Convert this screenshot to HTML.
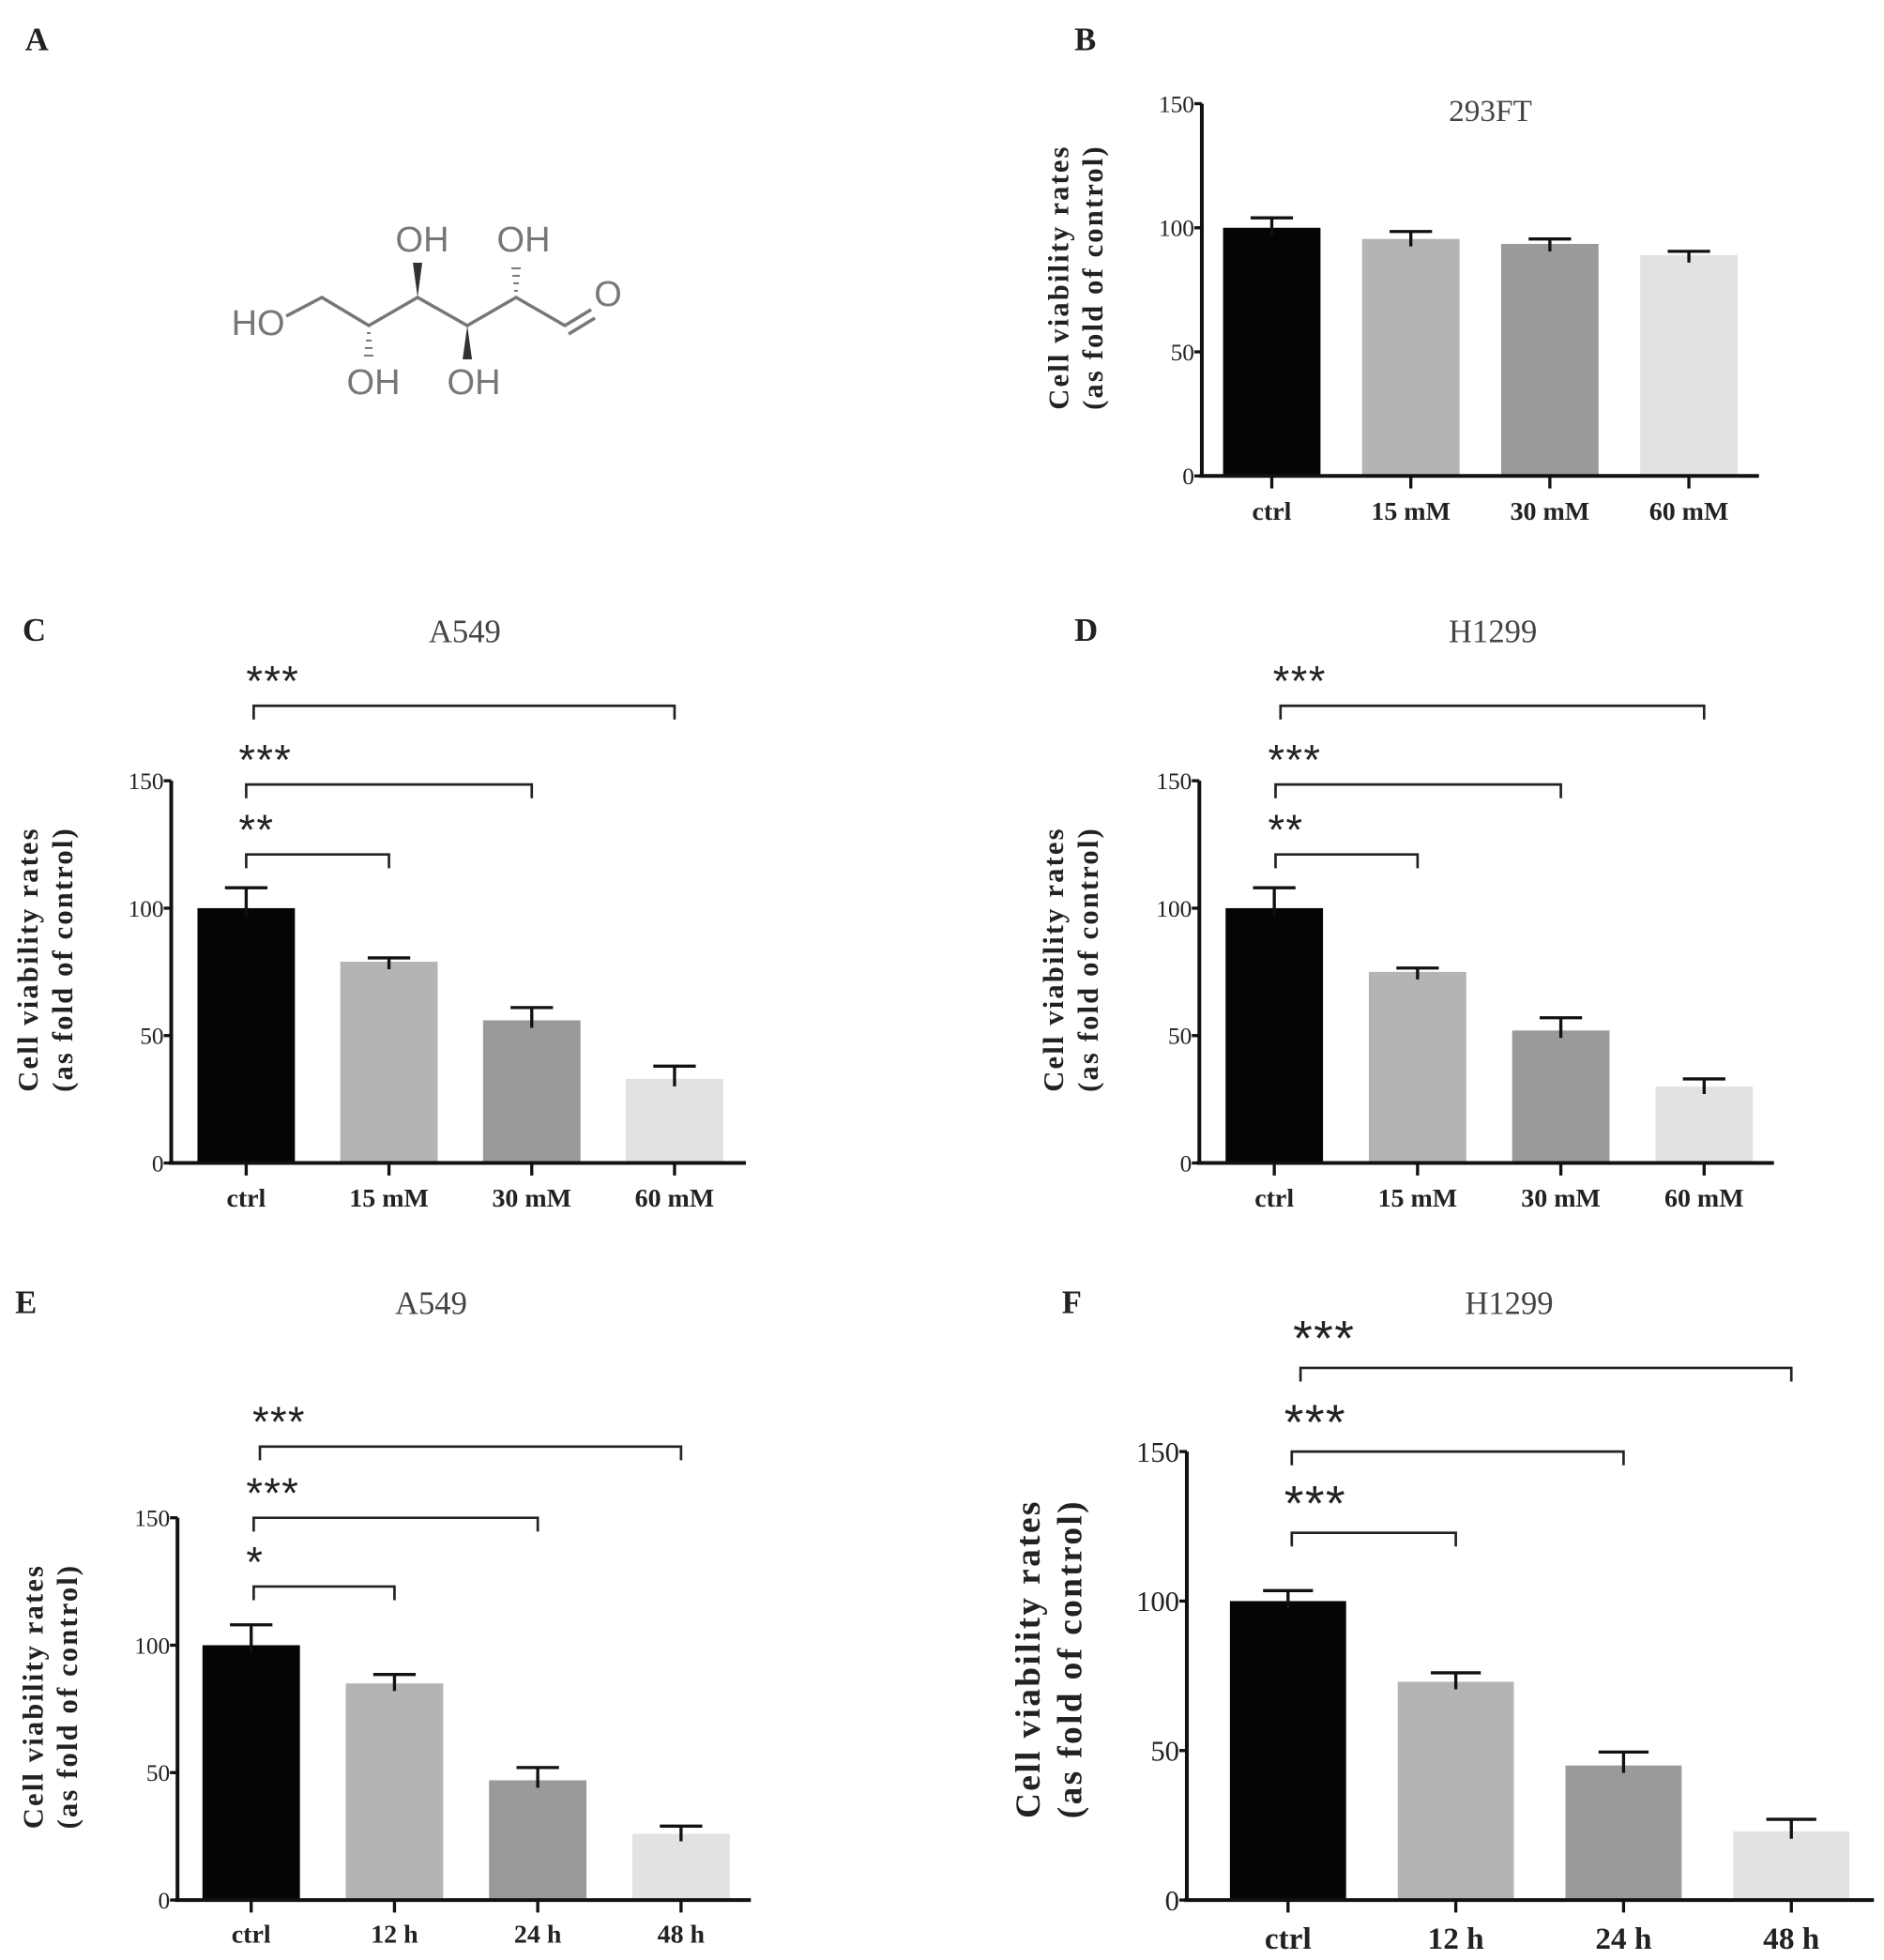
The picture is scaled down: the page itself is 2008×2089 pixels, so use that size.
<!DOCTYPE html>
<html><head><meta charset="utf-8"><style>
html,body{margin:0;padding:0;background:#fff;}
svg{display:block;}
text{font-family:"Liberation Serif",serif;}
text.sans{font-family:"Liberation Sans",sans-serif;}
</style></head><body>
<svg id="fig" width="2008" height="2089" viewBox="0 0 1508 1569" xmlns="http://www.w3.org/2000/svg">
<g font-size="26" font-weight="bold" fill="#222">
<text x="20" y="40">A</text><text x="860" y="40">B</text>
<text x="18" y="513">C</text><text x="860" y="513">D</text>
<text x="12" y="1051">E</text><text x="850" y="1051">F</text>
</g>
<g transform="scale(0.751)" stroke="#777" stroke-width="3.5" fill="none">
<polyline points="305,337 343,317 393,347 445,317 498,347 550,317 602,347 630,330"/>
<line x1="606" y1="356" x2="634" y2="339"/>
<polygon points="445,317 440,280 450,280" fill="#333" stroke="none"/>
<polygon points="498,347 493,383 503,383" fill="#333" stroke="none"/>
<g stroke-width="2"><line x1="548" y1="310" x2="552" y2="310"/><line x1="547" y1="302" x2="553" y2="302"/><line x1="546" y1="294" x2="554" y2="294"/><line x1="545" y1="286" x2="555" y2="286"/>
<line x1="391" y1="355" x2="395" y2="355"/><line x1="390" y1="363" x2="396" y2="363"/><line x1="389" y1="371" x2="397" y2="371"/><line x1="388" y1="379" x2="398" y2="379"/></g>
<g fill="#777" stroke="none" font-size="38" text-anchor="middle">
<text class="sans" x="275" y="357">HO</text><text class="sans" x="450" y="268">OH</text><text class="sans" x="558" y="268">OH</text>
<text class="sans" x="398" y="420">OH</text><text class="sans" x="505" y="420">OH</text><text class="sans" x="648" y="326">O</text></g>
</g>
</svg>
<script>
// Panel B (293FT)
const bCats = ["ctrl","15 mM","30 mM","60 mM"];
const bValues = [100,95.5,93.5,89];
const bErrors = [104,98.5,95.5,90.5];
// Panel C (A549 dose)
const cCats = ["ctrl","15 mM","30 mM","60 mM"];
const cValues = [100,79,56,33];
const cErrors = [108,80.5,61,38];
const cStars = ["***","***","**"];
// Panel D (H1299 dose)
const dCats = ["ctrl","15 mM","30 mM","60 mM"];
const dValues = [100,75,52,30];
const dErrors = [108,76.5,57,33];
const dStars = ["***","***","**"];
// Panel E (A549 time)
const eCats = ["ctrl","12 h","24 h","48 h"];
const eValues = [100,85,47,26];
const eErrors = [108,88.5,52,29];
const eStars = ["***","***","*"];
// Panel F (H1299 time)
const fCats = ["ctrl","12 h","24 h","48 h"];
const fValues = [100,73,45,23];
const fErrors = [103.5,76,49.5,27];
const fStars = ["***","***","***"];
const yTicks = [0,50,100,150];
const barColors = ["#050505","#b4b4b4","#9a9a9a","#e2e2e2"];

const NS="http://www.w3.org/2000/svg";
const svg=document.getElementById('fig');
function mk(tag,attrs,parent){const e=document.createElementNS(NS,tag);for(const k in attrs)e.setAttribute(k,attrs[k]);parent.appendChild(e);return e;}

function chart(o){
  const g=mk('g',{},svg);
  
  
  const y=v=>o.y0+(o.y150-o.y0)*v/150;
  const x=i=>o.x0+o.step*i;
  const t=mk('text',{x:o.tx,y:o.ty,'font-size':o.tfs,'text-anchor':'middle',fill:'#444'},g);
  t.textContent=o.title;
  
  
  o.values.forEach((v,i)=>{
    const r=mk('rect',{x:x(i)-o.bw/2,y:y(v),width:o.bw,height:y(0)-y(v),fill:barColors[i]},g);
    
    
    const e=mk('path',{d:`M${x(i)} ${y(v)+6} V${y(o.errors[i])} M${x(i)-o.cap} ${y(o.errors[i])} H${x(i)+o.cap}`,stroke:'#111','stroke-width':2.5,fill:'none'},g);
    
    
  });
  const ax=mk('path',{d:`M${o.ax} ${o.y150} V${y(0)+1.5} M${o.ax-2} ${y(0)} H${o.xend}`,stroke:'#111','stroke-width':3,fill:'none'},g);
  
  
  yTicks.forEach(v=>{
    mk('line',{x1:o.ax-6,x2:o.ax,y1:y(v),y2:y(v),stroke:'#111','stroke-width':2.5},g);
    const tl=mk('text',{x:o.ax-6,y:y(v)+o.kfs*0.35,'font-size':o.kfs,'text-anchor':'end',fill:'#222'},g);
    tl.textContent=v;
    
    
  });
  o.cats.forEach((c,i)=>{
    mk('line',{x1:x(i),x2:x(i),y1:y(0),y2:y(0)+10,stroke:'#111','stroke-width':2.5},g);
    const cl=mk('text',{x:x(i),y:o.cy,'font-size':o.cfs,'font-weight':'bold','text-anchor':'middle',fill:'#222'},g);
    cl.textContent=c;
    
    
  });
  const yt=mk('text',{transform:`translate(${o.ytx},${o.yty}) rotate(-90)`,'font-size':o.yfs,'font-weight':'bold','text-anchor':'middle',fill:'#222','letter-spacing':o.yls},g);
  const t1=mk('tspan',{x:0,y:0},yt);t1.textContent='Cell viability rates';
  const t2=mk('tspan',{x:0,y:o.yfs*1.2},yt);t2.textContent='(as fold of control)';
  
  
  if(o.stars){
    o.stars.forEach((s,k)=>{
      const j=3-k; const by=o.brY[k];
      const br=mk('path',{d:`M${o.brX0[k]} ${by+11} V${by} H${x(j)+(o.brOff||0)} V${by+11}`,stroke:'#222','stroke-width':2,fill:'none'},g);
      
      
      const st=mk('text',{x:o.brX0[k]-6,y:by-o.sOff,'font-size':o.sfs,fill:'#222','letter-spacing':'1'},g);
      st.setAttribute('class','sans');
      st.textContent=s;
      
      
    });
  }
}
chart({id:'b',title:'293FT',tx:1193,ty:97,tfs:25,cats:bCats,values:bValues,errors:bErrors,ax:962,xend:1408,y0:381,y150:83,x0:1018,step:111.3,bw:78,cap:17,kfs:19,cfs:21,cy:416,ytx:855,yty:222,yfs:23,yls:1.6});
chart({id:'c',title:'A549',tx:372,ty:514,tfs:26,cats:cCats,values:cValues,errors:cErrors,ax:137,xend:597,y0:931,y150:625,x0:197,step:114.3,bw:78,cap:17,kfs:19,cfs:21,cy:966,ytx:30,yty:768,yfs:23,yls:1.6,stars:cStars,brY:[565,628,684],brX0:[203,197,197],sOff:8,sfs:34});
chart({id:'d',title:'H1299',tx:1195,ty:514,tfs:26,cats:dCats,values:dValues,errors:dErrors,ax:960,xend:1420,y0:931,y150:625,x0:1020,step:114.7,bw:78,cap:17,kfs:19,cfs:21,cy:966,ytx:851,yty:768,yfs:23,yls:1.6,stars:dStars,brY:[565,628,684],brX0:[1025,1021,1021],sOff:8,sfs:34});
chart({id:'e',title:'A549',tx:345,ty:1052,tfs:26,cats:eCats,values:eValues,errors:eErrors,ax:142,xend:601,y0:1521,y150:1215,x0:201,step:114.7,bw:78,cap:17,kfs:19,cfs:21,cy:1555,ytx:34,yty:1358,yfs:23,yls:1.6,stars:eStars,brY:[1158,1215,1270],brX0:[208,203,203],sOff:8,sfs:34});
chart({id:'f',title:'H1299',tx:1208,ty:1052,tfs:26,cats:fCats,values:fValues,errors:fErrors,ax:950,xend:1500,y0:1521,y150:1162,x0:1031,step:134.3,bw:93,cap:20,kfs:23,cfs:25,cy:1560,ytx:832,yty:1328,yfs:28,yls:1.8,stars:fStars,brY:[1095,1162,1227],brX0:[1041,1034,1034],sOff:10,sfs:40});
</script>
</body></html>
